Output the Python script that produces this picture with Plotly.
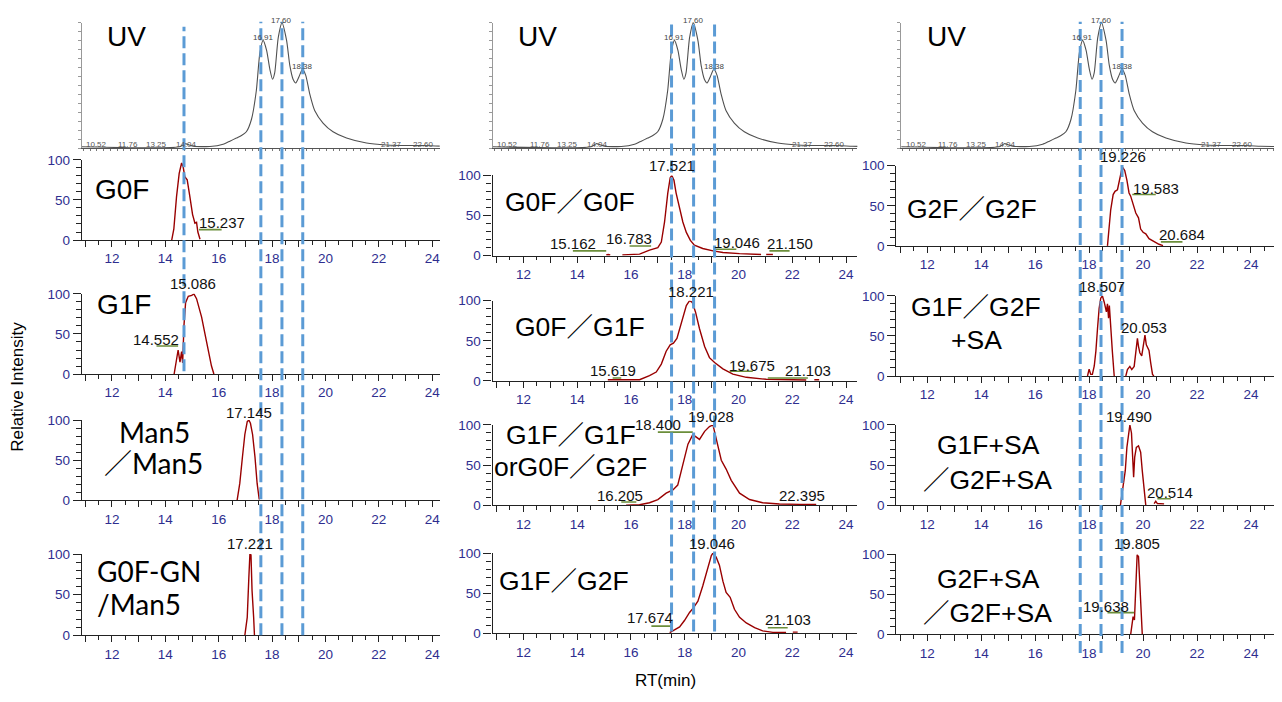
import plotly.graph_objects as go

W, H = 1282, 702
OFF = 8  # page body margin of the browser
FW, FH = W - OFF, H - OFF

# ---------------- data ----------------
# UV trace (UV retention time axis, % of max)
uv_rt = [10.18, 13.82, 14.01, 14.17, 14.32, 14.94, 15.43, 15.68, 15.92, 16.11, 16.29, 16.48, 16.66,
         16.79, 16.91, 17.04, 17.16, 17.26, 17.34, 17.47, 17.61, 17.78, 17.90, 18.02, 18.12, 18.24,
         18.37, 18.49, 18.64, 18.82, 19.13, 19.50, 20.00, 20.74, 21.48, 22.22, 22.84, 23.50, 24.30]
uv_int = [1, 1, 3.5, 2.5, 1.5, 1.2, 3, 5.5, 8, 10, 13, 23, 46,
          76, 86, 78, 63, 55, 60, 88, 100, 86, 66, 55, 52, 57,
          63, 58, 43, 30, 20, 13, 8, 4, 2.5, 2, 2, 1.5, 1]
uv_peak_text = ["16.91", "17.60", "18.38"]
uv_peak_rt = [16.91, 17.60, 18.38]
uv_peak_int = [86, 100, 63]
uv_base_text = ["10.52", "11.76", "13.25", "14.04", "21.37", "22.60"]
uv_base_rt = [10.74, 11.91, 12.96, 14.07, 21.67, 22.84]

# extracted ion chromatograms (RT min, relative intensity)
g0f_rt = [14.24, 14.32, 14.42, 14.52, 14.61, 14.67, 14.73, 14.82, 14.92, 15.02, 15.11, 15.17, 15.22, 15.30]
g0f_int = [0, 14, 54, 83, 96, 91, 79, 75, 54, 32, 21, 22, 10, 1]

g1f_rt = [14.33, 14.42, 14.48, 14.55, 14.61, 14.65, 14.70, 14.76, 14.86, 14.99, 15.07, 15.17, 15.27,
          15.36, 15.48, 15.61, 15.73, 15.82]
g1f_int = [0, 20, 30, 15, 28, 14, 61, 89, 97, 98, 100, 94, 81, 71, 51, 28, 10, 0]

man5_rt = [16.69, 16.79, 16.89, 16.98, 17.07, 17.13, 17.19, 17.27, 17.36, 17.44, 17.52]
man5_int = [0, 21, 54, 82, 98, 100, 96, 82, 54, 21, 1]

g0fgn_rt = [16.98, 17.07, 17.13, 17.17, 17.21, 17.25, 17.31, 17.34]
g0fgn_int = [0, 22, 71, 100, 99, 55, 22, 0]

g0f_g0f_rt = [15.08, 15.15, 15.23, None, 15.68, 16.0, 16.32, 16.69, 17.0, 17.13, 17.25, 17.37, 17.46,
              17.52, 17.60, 17.68, 17.81, 17.93, 18.06, 18.21, 18.36, 18.67, 19.05, 19.42, 20.04, 20.78,
              20.84, None, 21.03, 21.28]
g0f_g0f_int = [1, 1.5, 1, None, 1, 1.5, 2, 7, 10, 17, 42, 78, 97,
               100, 94, 78, 58, 42, 29, 19, 13, 9, 6, 4, 2.5, 1.6,
               1.5, None, 1.5, 1.5]

g0f_g1f_rt = [15.14, 15.5, 15.82, 16.32, 16.69, 16.94, 17.13, 17.31, 17.46, 17.58, 17.71, 17.87, 18.06,
              18.18, 18.28, 18.40, 18.55, 18.74, 18.92, 19.11, 19.42, 19.79, 20.29, 21.03, 21.77, 22.52,
              None, 22.82, 23.0]
g0f_g1f_int = [1.5, 1.5, 1, 1.5, 6.5, 11, 21, 37, 45, 47, 53, 72, 94,
               100, 98, 86, 65, 43, 29, 23, 15, 8.5, 4.5, 2, 1.5, 1.2,
               None, 1.5, 1.5]

g1f_g1f_rt = [15.82, 16.32, 16.69, 17.0, 17.31, 17.56, 17.74, 17.93, 18.12, 18.30, 18.40, 18.55, 18.74,
              18.92, 19.05, 19.17, 19.36, 19.54, 19.73, 20.04, 20.41, 20.90, 21.52, 22.27, 22.89]
g1f_g1f_int = [0, 0.5, 3, 7, 15, 19, 25, 51, 76, 88, 86, 82, 92,
               98, 100, 84, 56, 45, 31, 15, 7, 3, 1.5, 1, 1]

g1f_g2f_rt = [17.44, 17.62, 17.81, 17.99, 18.18, 18.33, 18.49, 18.67, 18.84, 18.99, 19.05, 19.17, 19.29,
              19.42, 19.54, 19.69, 19.85, 20.04, 20.29, 20.60, 20.90, 21.28, 21.77, None, 22.02, 22.2]
g1f_g2f_int = [1, 4, 8, 16, 26, 32, 40, 59, 81, 97, 100, 95, 85,
               65, 51, 45, 30, 20, 13, 7, 3, 1.2, 1, None, 1.5, 1.5]

g2f_g2f_rt = [18.68, 18.74, 18.80, 18.89, 18.96, 19.05, 19.11, 19.20, 19.26, 19.32, 19.40, 19.48, 19.54,
              19.63, 19.73, 19.83, 19.91, 20.00, 20.10, 20.22, 20.41, 20.59, 20.74]
g2f_g2f_int = [0, 21, 45, 64, 68, 70, 80, 94, 97, 94, 82, 66, 62,
               53, 41, 35, 21, 17, 15, 9, 5, 2, 0.4]

g1f_g2f_sa_rt = [17.94, 18.0, 18.06, 18.12, 18.19, 18.25, 18.31, 18.37, 18.43, 18.49, 18.56, 18.59, 18.64,
                 18.68, 18.72, 18.75, 18.80, 18.86, 18.93, None, 19.36, 19.42, 19.51, 19.58, 19.67, 19.73,
                 19.79, 19.83, 19.88, 19.95, 20.04, 20.07, 20.12, 20.17, 20.22, 20.28, 20.35, 20.40]
g1f_g2f_sa_int = [0, 8.5, 2, 2, 12.5, 31, 59, 84, 97, 100, 92, 86, 80,
                  90, 72, 88, 67, 31, 0, None, 0, 8, 12, 8, 12, 31,
                  47, 37, 29, 25, 45, 51, 39, 36, 32, 17, 2, 0]

g1fsa_g2fsa_rt = [19.16, 19.22, 19.28, 19.34, 19.40, 19.48, 19.51, 19.57, 19.62, 19.65, 19.69, 19.75, 19.83,
                  19.91, 19.97, 20.04, 20.10, None, 20.41, 20.47, 20.53, 20.66, 20.78]
g1fsa_g2fsa_int = [0, 15, 31, 43, 72, 98, 100, 90, 60, 35, 60, 72, 74,
                   66, 43, 15, 0, None, 2, 5, 2, 1.6, 1.6]

g2fsa_g2fsa_rt = [19.54, 19.58, 19.63, 19.68, 19.73, 19.78, 19.83, 19.88, 19.93, 19.97]
g2fsa_g2fsa_int = [0, 9, 22, 18, 54, 99, 97, 54, 18, 0]

# panel titles
uv_title = "UV"
titles_col1 = [["G0F"], ["G1F"], ["Man5", "／Man5"], ["G0F-GN", "/Man5"]]
titles_col2 = [["G0F／G0F"], ["G0F／G1F"], ["G1F／G1F", "orG0F／G2F"], ["G1F／G2F"]]
titles_col3 = [["G2F／G2F"], ["G1F／G2F", "+SA"], ["G1F+SA", "／G2F+SA"], ["G2F+SA", "／G2F+SA"]]

# peak labels: (text, rt, intensity)
peaks = [
    [[("15.237", 16.11, 22)],
     [("15.086", 15.04, 113), ("14.552", 13.65, 43)],
     [("17.145", 17.13, 110)],
     [("17.221", 17.17, 113)]],
    [[("17.521", 17.52, 112), ("15.162", 13.86, 15), ("16.783", 15.94, 21), ("19.046", 19.94, 17), ("21.150", 21.93, 15)],
     [("18.221", 18.24, 112), ("15.619", 15.33, 13.5), ("19.675", 20.50, 19.5), ("21.103", 22.60, 13.5)],
     [("19.028", 18.99, 111), ("18.400", 17.00, 101), ("16.205", 15.61, 12), ("22.395", 22.36, 12)],
     [("19.046", 19.02, 112), ("17.674", 16.72, 19.5), ("21.103", 21.86, 17)]],
    [[("19.226", 19.25, 112), ("19.583", 20.47, 72), ("20.684", 21.43, 14)],
     [("18.507", 18.49, 112), ("20.053", 20.04, 60)],
     [("19.490", 19.48, 111), ("20.514", 20.99, 16)],
     [("19.805", 19.79, 113), ("19.638", 18.62, 35)]],
]
# label baselines: (rt start, rt end, intensity)
label_lines = [
    [[(15.26, 16.11, 13)], [(13.67, 14.48, 35)], [], []],
    [[(13.84, 15.08, 6), (15.95, 16.75, 12), (19.11, 19.92, 8), (21.15, 21.90, 6)],
     [(15.32, 15.64, 3.6), (19.67, 20.53, 12), (21.09, 22.58, 3.6)],
     [(17.00, 18.30, 91), (15.64, 16.20, 4)],
     [(16.76, 17.56, 9), (21.09, 21.83, 7)]],
    [[(19.60, 20.47, 64), (20.66, 21.46, 5)], [], [(20.53, 21.03, 8)], [(18.68, 19.67, 27)]],
]

# reference RT markers (dashed lines) per column
markers_col1 = [14.70, 17.58, 18.37, 19.15]
markers_col2 = [17.51, 18.33, 19.11]
markers_col3 = [17.67, 18.44, 19.22]

series = [
    [(g0f_rt, g0f_int), (g1f_rt, g1f_int), (man5_rt, man5_int), (g0fgn_rt, g0fgn_int)],
    [(g0f_g0f_rt, g0f_g0f_int), (g0f_g1f_rt, g0f_g1f_int), (g1f_g1f_rt, g1f_g1f_int), (g1f_g2f_rt, g1f_g2f_int)],
    [(g2f_g2f_rt, g2f_g2f_int), (g1f_g2f_sa_rt, g1f_g2f_sa_int), (g1fsa_g2fsa_rt, g1fsa_g2fsa_int),
     (g2fsa_g2fsa_rt, g2fsa_g2fsa_int)],
]
titles = [titles_col1, titles_col2, titles_col3]
markers = [markers_col1, markers_col2, markers_col3]

# ---------------- geometry (pixels in the page) ----------------
col_x = [(82, 440), (493, 858), (897, 1280)]
col_range = [[10.876, 24.28], [10.855, 24.42], [10.85, 25.04]]
uv_x = [(82, 440), (493, 858), (902, 1280)]
uv_range = [[10.20, 23.45], [10.17, 23.69], [10.19, 24.19]]
uv_y = (16, 144)
row_y = [
    [(156, 238), (293, 375), (422, 504), (559, 642)],
    [(172, 254), (300, 382), (427, 509), (558, 640)],
    [(162, 244), (295, 377), (427, 509), (559, 641)],
]
uv_title_pos = [(127, 30), (538, 30), (947, 30)]
title_pos = [
    [[(122, 186)], [(124, 304)], [(155, 434), (154, 466)], [(95, 576), (95, 610)]],
    [[(570, 199)], [(580, 327)], [(571, 437), (571, 470)], [(564, 587)]],
    [[(973, 206)], [(977, 306), (977, 340)], [(989, 448), (988, 483)], [(989, 584), (988, 619)]],
]
marker_span = [[(20, 372), (15, 642), (15, 642), (15, 642)],
               [(15, 638), (15, 638), (15, 638)],
               [(15, 660), (15, 660), (15, 660)]]


def fx(px):
    return (px - OFF) / FW


def fy(py):
    return 1 - (py - OFF) / FH


TRACE = "#990000"
TICKC = "#2E2E8F"
AXC = "#222222"
FONT = "Liberation Sans, Arial, Noto Sans CJK JP, sans-serif"
TFONT = "Liberation Sans, Arial, Noto Sans CJK JP, sans-serif"

fig = go.Figure()
layout = dict(width=FW, height=FH, margin=dict(l=0, r=0, t=0, b=0),
              paper_bgcolor="white", plot_bgcolor="white", showlegend=False)
annotations = []
shapes = []

n = 0


def ax_names(k):
    s = "" if k == 1 else str(k)
    return "xaxis" + s, "yaxis" + s, "x" + s, "y" + s


for c in range(3):
    # ---- UV panel ----
    n += 1
    xa, ya, xr, yr = ax_names(n)
    layout[xa] = dict(domain=[fx(uv_x[c][0]), fx(uv_x[c][1])], range=uv_range[c], anchor=yr,
                      showline=True, linecolor="#555", linewidth=1, ticks="outside", tickmode="linear",
                      tick0=0, dtick=0.25, ticklen=2, tickcolor="#777", showticklabels=False,
                      showgrid=False, zeroline=False)
    layout[ya] = dict(domain=[fy(uv_y[1]), fy(uv_y[0])], range=[0, 100], anchor=xr,
                      showline=True, linecolor="#999", linewidth=1, ticks="outside", tickmode="linear",
                      tick0=0, dtick=100 / 14, ticklen=3, tickcolor="#999", showticklabels=False,
                      showgrid=False, zeroline=False)
    fig.add_trace(go.Scatter(x=uv_rt, y=uv_int, xaxis=xr, yaxis=yr, mode="lines",
                             line=dict(color="#505050", width=1.1, shape="spline", smoothing=0.6),
                             hoverinfo="skip", cliponaxis=True))
    for t, r, v in zip(uv_peak_text, uv_peak_rt, uv_peak_int):
        annotations.append(dict(text=t, x=r, y=v / 100, xref=xr, yref=yr + " domain", showarrow=False,
                                xanchor="center", yanchor="bottom", yshift=-4,
                                font=dict(family=FONT, size=8, color="#444")))
    for t, r in zip(uv_base_text, uv_base_rt):
        annotations.append(dict(text=t, x=r, y=0.03, xref=xr, yref=yr + " domain", showarrow=False,
                                xanchor="center", yanchor="middle",
                                font=dict(family=FONT, size=8, color="#555")))
    annotations.append(dict(text=uv_title, x=fx(uv_title_pos[c][0]), y=fy(uv_title_pos[c][1]),
                            xref="paper", yref="paper", showarrow=False, xanchor="center", yanchor="middle",
                            font=dict(family=TFONT, size=28, color="black")))

    first_x = None
    for r in range(4):
        n += 1
        xa, ya, xr, yr = ax_names(n)
        if first_x is None:
            first_x = xr
        y100, y0 = row_y[c][r]
        layout[xa] = dict(domain=[fx(col_x[c][0]), fx(col_x[c][1])], range=col_range[c], anchor=yr,
                          showline=True, linecolor=AXC, linewidth=1.3, ticks="outside", tickmode="array",
                          tickvals=list(range(11, 26)),
                          ticktext=[str(v) if v % 2 == 0 else "" for v in range(11, 26)],
                          ticklen=6, tickwidth=1.2, tickcolor=AXC,
                          minor=dict(ticks="outside", tickmode="linear", tick0=0, dtick=0.5, ticklen=3.5,
                                     tickcolor=AXC, tickwidth=1),
                          tickfont=dict(family=FONT, size=13.5, color=TICKC),
                          showgrid=False, zeroline=False)
        layout[ya] = dict(domain=[fy(y0), fy(y100)], range=[0, 100], anchor=xr,
                          showline=True, linecolor=AXC, linewidth=1.3, ticks="outside", tickmode="array",
                          tickvals=[0, 50, 100], ticklen=8, tickwidth=1.2, tickcolor=AXC,
                          minor=dict(ticks="outside", tickmode="linear", tick0=0, dtick=10, ticklen=5,
                                     tickcolor=AXC, tickwidth=1),
                          tickfont=dict(family=FONT, size=13.5, color=TICKC),
                          showgrid=False, zeroline=False)
        sx, sy = series[c][r]
        fig.add_trace(go.Scatter(x=sx, y=sy, xaxis=xr, yaxis=yr, mode="lines",
                                 line=dict(color=TRACE, width=1.4), connectgaps=False,
                                 hoverinfo="skip", cliponaxis=False))
        for (t, rt, v) in peaks[c][r]:
            annotations.append(dict(text=t, x=rt, y=v / 100, xref=xr, yref=yr + " domain", showarrow=False,
                                    xanchor="center", yanchor="middle",
                                    font=dict(family=FONT, size=15, color="#111")))
        for (a, b, v) in label_lines[c][r]:
            shapes.append(dict(type="line", x0=a, x1=b, y0=v, y1=v, xref=xr, yref=yr,
                               line=dict(color="#6B8E3A", width=1.6)))
        for li, txt in enumerate(titles[c][r]):
            px, py = title_pos[c][r][li]
            left = (c == 0 and r == 3)
            fam = "Lato, Liberation Sans, Noto Sans CJK JP" if (c == 0 and r >= 2) else TFONT
            annotations.append(dict(text=txt, x=fx(px), y=fy(py), xref="paper", yref="paper",
                                    showarrow=False, xanchor="left" if left else "center", yanchor="middle",
                                    font=dict(family=fam, size=28 if c == 0 else 26.5, color="black")))

    for m, (ya_px, yb_px) in zip(markers[c], marker_span[c]):
        shapes.append(dict(type="line", x0=m, x1=m, y0=fy(yb_px), y1=fy(ya_px), xref=first_x, yref="paper",
                           line=dict(color="#5B9BD5", width=3, dash="12px,5px"), layer="above"))

annotations.append(dict(text="Relative Intensity", x=fx(18), y=fy(388), xref="paper", yref="paper",
                        xanchor="center", yanchor="middle",
                        showarrow=False, textangle=-90, font=dict(family=FONT, size=17, color="black")))
annotations.append(dict(text="RT(min)", x=fx(666), y=fy(688), xref="paper", yref="paper",
                        xanchor="center", yanchor="middle",
                        showarrow=False, font=dict(family=FONT, size=17, color="black")))

layout["annotations"] = annotations
layout["shapes"] = shapes
fig.update_layout(**layout)
fig.write_html("out.html")
